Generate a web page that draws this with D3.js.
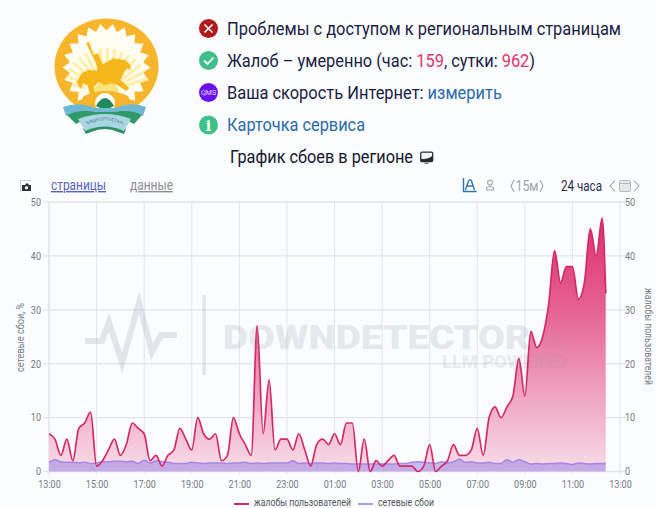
<!DOCTYPE html>
<html lang="ru">
<head>
<meta charset="utf-8">
<title>График сбоев в регионе</title>
<script src="https://cdn.jsdelivr.net/npm/d3@7/dist/d3.min.js"></script>
<style>
  html, body { margin: 0; padding: 0; background: #fafcfe; overflow: hidden; }
  svg { display: block; font-family: Roboto, "Liberation Sans", sans-serif; }
</style>
</head>
<body>
<svg id="page" width="656" height="508"></svg>
<script>
// Complaints per 15-minute sample, starting at 13:00
const complaints = [7,6,3,6,2,8,9,11,1,2,4,6,3,5,9,8,7,2,3,1,3,4,8,6,4,10,7,6,7,2,
  3,10,7,5,3,27,7,17,4,6,6,4,7,4,1,5,6,5,7,5,9,9,0,6,0,2,1,2,3,1,
  1,1,0,1,5,0,1,2,5,3,3,4,8,3,10,12,10,12,14,21,14,26,23,25,31,41,35,38,38,32,
  35,45,40,47,33];
// Network failures, %, same sampling
const network = [1.7,2.2,1.8,1.7,1.7,1.6,1.7,1.5,1.6,1.8,1.8,1.9,1.9,1.8,1.9,1.5,2.1,1.6,2,1.8,
  1.7,1.5,1.5,1.5,1.7,1.6,1.5,1.6,1.6,1.6,1.5,1.6,1.6,1.7,1.5,1.6,1.5,1.6,1.6,1.6,
  1.6,2,1.5,1.6,1.5,1.6,1.6,1.5,1.6,1.5,1.5,1.4,1.4,1.4,1.4,1.4,1.4,1.4,1.4,1.5,
  1.5,1.7,1.8,1.7,1.6,1.5,1.8,1.6,1.8,2.3,1.7,1.8,1.6,1.6,1.7,1.5,1.5,2.2,1.7,2.2,
  1.8,1.4,1.5,1.4,1.5,1.5,1.6,1.5,1.3,1.6,1.5,1.4,1.5,1.5,1.5];
// Minutes after the start of the window; the last reading is the current, partial one
const sampleMinutes = [...d3.range(0, 94 * 15, 15), 1404];
const yTicks = [0, 10, 20, 30, 40, 50];
const hourTicks = d3.range(0, 25, 2);
const legendLabels = ["жалобы пользователей", "сетевые сбои"];
const hourComplaints = 159, dayComplaints = 962;

const svg = d3.select("#page");
const startTime = new Date(2024, 0, 1, 13, 0);
const at = m => new Date(+startTime + m * 60000);

const x = d3.scaleTime().domain([startTime, at(1440)]).range([49, 620]);
const yLeft = d3.scaleLinear().domain([0, 50]).range([471.5, 202]);
const yRight = d3.scaleLinear().domain([0, 50]).range([471.5, 202]);

// Stretch or squeeze an anchored label to a given width
function fitLength(sel, w) {
  sel.each(function () {
    const natural = this.getComputedTextLength();
    const width = typeof w === "function" ? w(natural) : w;
    d3.select(this).attr("textLength", width).attr("lengthAdjust", "spacingAndGlyphs");
  });
  return sel;
}
// Place a left-aligned line with mixed spans, scaled horizontally to a given width
function fitLine(sel, left, base, w) {
  const k = w / sel.node().getComputedTextLength();
  sel.attr("x", 0).attr("y", 0).attr("transform", `translate(${left},${base}) scale(${k},1)`);
  return sel;
}

const defs = svg.append("defs");
const grad = defs.append("linearGradient").attr("id", "complaintFill")
  .attr("gradientUnits", "userSpaceOnUse")
  .attr("x1", 0).attr("x2", 0).attr("y1", yRight(47)).attr("y2", yRight(0));
[[0, "#dd2f6e"], [0.35, "#e5608f"], [0.7, "#efa5c0"], [1, "#f8dde7"]]
  .forEach(([o, c]) => grad.append("stop").attr("offset", o).attr("stop-color", c));

/* ---------- grid ---------- */
const grid = svg.append("g");
grid.selectAll("line.h").data(yTicks).join("line").attr("class", "h")
  .attr("x1", 43).attr("x2", 626)
  .attr("y1", d => yLeft(d)).attr("y2", d => yLeft(d))
  .attr("stroke", "#e2e5e9").attr("stroke-width", 1.3);
grid.selectAll("line.v").data(hourTicks).join("line").attr("class", "v")
  .attr("x1", d => x(at(d * 60))).attr("x2", d => x(at(d * 60)))
  .attr("y1", yLeft(50)).attr("y2", yLeft(0) + 3)
  .attr("stroke", "#e2e5e9").attr("stroke-width", d => (d === 0 ? 1.6 : 1));

/* ---------- series ---------- */
const xOf = (d, i) => x(at(sampleMinutes[i]));
const complaintArea = d3.area().x(xOf).y0(yRight(0)).y1(d => yRight(d)).curve(d3.curveMonotoneX);
const complaintLine = d3.line().x(xOf).y(d => yRight(d)).curve(d3.curveMonotoneX);
const networkArea = d3.area().x(xOf).y0(yLeft(0)).y1(d => yLeft(d)).curve(d3.curveMonotoneX);
const networkLine = d3.line().x(xOf).y(d => yLeft(d)).curve(d3.curveMonotoneX);

svg.append("path").datum(complaints).attr("d", complaintArea).attr("fill", "url(#complaintFill)");

/* ---------- watermark, laid over the filled areas ---------- */
const mark = svg.append("g").attr("fill", "#8b98a6").attr("fill-opacity", 0.21);
mark.append("path")
  .attr("d", "M85 341H102L109 322L122 363L139 303L152 352L161 335H177")
  .attr("fill", "none").attr("stroke", "#8b98a6").attr("stroke-opacity", 0.21).attr("stroke-width", 6);
mark.append("rect").attr("x", 202.5).attr("y", 295).attr("width", 3.5).attr("height", 80);
mark.append("text").attr("x", 223).attr("y", 349).attr("font-size", 33).attr("font-weight", 900)
  .text("DOWNDETECTOR").call(fitLength, 307);
mark.append("text").attr("x", 528).attr("y", 348).attr("font-size", 15).attr("font-weight", 700)
  .attr("fill-opacity", 0.14).text(".info").call(fitLength, 38);
mark.append("text").attr("x", 442).attr("y", 368).attr("font-size", 18).attr("font-weight", 900)
  .attr("fill-opacity", 0.16).text("LLM POWERED").call(fitLength, 125);

svg.append("path").datum(network).attr("d", networkArea).attr("fill", "#8f7be8").attr("fill-opacity", 0.5);
svg.append("path").datum(network).attr("d", networkLine).attr("fill", "none")
  .attr("stroke", "#a586e6").attr("stroke-width", 1.5);
svg.append("path").datum(complaints).attr("d", complaintLine).attr("fill", "none")
  .attr("stroke", "#d42a66").attr("stroke-width", 1.7);

/* ---------- axes ---------- */
function styleAxis(g) {
  g.select(".domain").remove();
  g.selectAll(".tick line").remove();
  g.selectAll("text").attr("fill", "#777b80").attr("font-size", 10.5)
    .attr("font-family", "Roboto, sans-serif").call(fitLength, n => n * 0.86);
}
svg.append("g").attr("transform", "translate(41,0)")
  .call(d3.axisLeft(yLeft).tickValues(yTicks).tickSize(0).tickPadding(0)).call(styleAxis);
svg.append("g").attr("transform", "translate(625,0)")
  .call(d3.axisRight(yRight).tickValues(yTicks).tickSize(0).tickPadding(0)).call(styleAxis);
svg.append("g").attr("transform", "translate(0,480.5)")
  .call(d3.axisBottom(x).tickValues(hourTicks.map(h => at(h * 60))).tickFormat(d3.timeFormat("%H:%M")).tickSize(0).tickPadding(0))
  .call(styleAxis);

svg.append("text").attr("transform", "translate(23.500,337.5) rotate(-90)").attr("text-anchor", "middle")
  .attr("font-size", 10).attr("fill", "#777b80").text("сетевые сбои, %").call(fitLength, 69);
svg.append("text").attr("transform", "translate(645,336.5) rotate(90)").attr("text-anchor", "middle")
  .attr("font-size", 10).attr("fill", "#777b80").text("жалобы пользователей").call(fitLength, 97);

/* ---------- legend ---------- */
const legend = svg.append("g");
[[234, "#d42a66", 254, 97], [358, "#a79bee", 378, 56]].forEach(([lx, col, tx, w], i) => {
  legend.append("line").attr("x1", lx).attr("x2", lx + 15).attr("y1", 504).attr("y2", 504)
    .attr("stroke", col).attr("stroke-width", 2);
  legend.append("text").attr("x", tx).attr("y", 505.8).attr("font-size", 10)
    .attr("fill", "#55585c").text(legendLabels[i]).call(fitLength, w);
});

/* ---------- status list ---------- */
const inkColor = "#1b1c46", linkColor = "#2a6aa8", figureColor = "#d9366b";
function statusDot(cy, fill) {
  return svg.append("circle").attr("cx", 208.5).attr("cy", cy).attr("r", 9.5).attr("fill", fill);
}
function statusText() {
  return svg.append("text").attr("font-size", 17.8).attr("fill", inkColor);
}
const rowY = [28.5, 60.5, 92.5, 125];

statusDot(rowY[0], "#ae1c1c");
svg.append("path").attr("d", `M204.5 ${rowY[0] - 4}l8 8m0 -8l-8 8`).attr("stroke", "#fff").attr("stroke-width", 1.6).attr("fill", "none");
statusText().text("Проблемы с доступом к региональным страницам").call(fitLine, 227, rowY[0] + 6.5, 394);

statusDot(rowY[1], "#3fbf8a");
svg.append("path").attr("d", `M204 ${rowY[1]}l3.500 3.500l6 -6.500`).attr("stroke", "#fff").attr("stroke-width", 1.8).attr("fill", "none");
const t2 = statusText();
t2.append("tspan").text("Жалоб – умеренно (час: ");
t2.append("tspan").attr("fill", figureColor).text(hourComplaints);
t2.append("tspan").text(", сутки: ");
t2.append("tspan").attr("fill", figureColor).text(dayComplaints);
t2.append("tspan").text(")");
t2.call(fitLine, 227, rowY[1] + 6.5, 308);

statusDot(rowY[2], "#6a12ee");
svg.append("text").attr("x", 208.5).attr("y", rowY[2] + 2.5).attr("text-anchor", "middle").attr("font-size", 7)
  .attr("fill", "#e8dcff").text("QMS");
const t3 = statusText();
t3.append("tspan").text("Ваша скорость Интернет: ");
t3.append("tspan").attr("fill", linkColor).text("измерить");
t3.call(fitLine, 227, rowY[2] + 6.5, 275);

statusDot(rowY[3], "#3fbf8a");
svg.append("text").attr("x", 208.5).attr("y", rowY[3] + 5.5).attr("text-anchor", "middle").attr("font-size", 14)
  .attr("font-weight", 700).attr("font-family", "DejaVu Serif, serif").attr("fill", "#fff").text("i");
statusText().attr("fill", linkColor).text("Карточка сервиса").call(fitLine, 227, rowY[3] + 6, 138);

/* ---------- chart heading ---------- */
svg.append("text").attr("font-size", 17.8).attr("fill", "#15152e").text("График сбоев в регионе")
  .call(fitLine, 230, 163, 183);
const screen = svg.append("g").attr("transform", "translate(420,151.5)");
screen.append("rect").attr("x", 0.7).attr("y", 0.7).attr("width", 12).attr("height", 9.5).attr("rx", 1.5)
  .attr("fill", "#f4f5f7").attr("stroke", "#2a2a33").attr("stroke-width", 1.3);
screen.append("path").attr("d", "M1 10H12V5Q9 8 1 8ZM4.500 11.800H8.500").attr("fill", "#2a2a33").attr("stroke", "#2a2a33").attr("stroke-width", 0.8);

/* ---------- toolbar ---------- */
const tools = svg.append("g");
tools.append("path").attr("d", "M20.500 191V180.500H31").attr("fill", "none").attr("stroke", "#c9cdd2");
tools.append("path").attr("d", "M22 191V185H25L26 183.500H28L29 185H31V191Z").attr("fill", "#2f3136");
tools.append("circle").attr("cx", 26.5).attr("cy", 187.8).attr("r", 1.7).attr("fill", "#e8eaec");
tools.append("text").attr("x", 51).attr("y", 190).attr("font-size", 14).attr("fill", "#5563c6")
  .attr("text-decoration", "underline").text("страницы").call(fitLength, 55);
tools.append("text").attr("x", 130).attr("y", 190).attr("font-size", 14).attr("fill", "#8e9094")
  .attr("text-decoration", "underline").text("данные").call(fitLength, 43);

tools.append("path").attr("d", "M463.500 178V191.500H476.500M465.500 190L468.500 181Q470 178.500 471.500 181L474.500 190M466.500 186H473.500")
  .attr("fill", "none").attr("stroke", "#2f74b5").attr("stroke-width", 1.4);
tools.append("circle").attr("cx", 490).attr("cy", 182.5).attr("r", 2.4).attr("fill", "none").attr("stroke", "#a5a9ae").attr("stroke-width", 1.1);
tools.append("path").attr("d", "M486.500 190V188.500Q486.500 186.500 490 186.500Q493.500 186.500 493.500 188.500V190Z")
  .attr("fill", "none").attr("stroke", "#a5a9ae").attr("stroke-width", 1.1);
tools.append("text").attr("x", 527).attr("y", 191).attr("text-anchor", "middle").attr("font-size", 14)
  .attr("fill", "#a0a4a9").text("15м").call(fitLength, 23);
tools.append("path").attr("d", "M514 180L511 186L514 192M540 180L543 186L540 192M615 180.500L610 186L615 191.500M634 180.500L639 186L634 191.500")
  .attr("fill", "none").attr("stroke", "#a0a4a9").attr("stroke-width", 1.1);
tools.append("text").attr("x", 561).attr("y", 191).attr("font-size", 14).attr("fill", "#2a2b50")
  .text("24 часа").call(fitLength, 41);
tools.append("rect").attr("x", 619.5).attr("y", 180.5).attr("width", 11).attr("height", 11).attr("rx", 1.5)
  .attr("fill", "#e6e7ea").attr("stroke", "#b4b7bb");
tools.append("line").attr("x1", 619.5).attr("x2", 630.5).attr("y1", 183.5).attr("y2", 183.5).attr("stroke", "#b4b7bb");

/* ---------- regional emblem ---------- */
const emblem = svg.append("g");
const ringX = 106.5, ringY = 66.5;
const gold = "#f7b52c";
emblem.append("ellipse").attr("cx", ringX).attr("cy", ringY).attr("rx", 52).attr("ry", 48).attr("fill", gold);
// Toothed inner edge of the ring
const teethCount = 22;
const toothed = d3.lineRadial().curve(d3.curveLinearClosed).angle(d => d.a).radius(d => d.r);
const toothPoints = d3.range(teethCount * 2).map(i => ({ a: i * Math.PI / teethCount, r: i % 2 ? 44 : 37 }));
const toothPath = toothed(toothPoints);
defs.append("clipPath").attr("id", "emblemField").append("path")
  .attr("transform", `translate(${ringX},${ringY + 1})`).attr("d", toothPath);
emblem.append("path").attr("transform", `translate(${ringX},${ringY + 1})`)
  .attr("d", toothPath).attr("fill", "#fffdf2");
// Sun rays behind the rider
const rayAngles = d3.range(-78, 79, 10);
emblem.append("g").attr("clip-path", "url(#emblemField)")
  .selectAll("line").data(rayAngles).join("line")
  .attr("x1", d => 106 + 20 * Math.sin(d * Math.PI / 180))
  .attr("y1", d => 92 - 20 * Math.cos(d * Math.PI / 180))
  .attr("x2", d => 106 + 44 * Math.sin(d * Math.PI / 180))
  .attr("y2", d => 92 - 44 * Math.cos(d * Math.PI / 180))
  .attr("stroke", "#fdeea8").attr("stroke-width", 3);
emblem.append("circle").attr("cx", 106).attr("cy", 94).attr("r", 13).attr("fill", "#fde27e");
emblem.append("path").attr("transform", "translate(30,5) scale(0.3333)")
  .attr("d", "M168 113L178 112L190 150L205 145L210 160L218 178L250 160L285 165L300 178L303 195L290 190L280 205L272 225L298 250L288 258L262 240L245 235L225 240L205 232L192 245L192 268L180 268L172 240L160 235L152 252L140 232L155 205L175 195L203 197L198 175Z")
  .attr("fill", "#f6b71c");
emblem.append("path").attr("d", "M84 96Q106 86 128 96L134 108H76Z").attr("fill", gold);
emblem.append("circle").attr("cx", 105).attr("cy", 103).attr("r", 10).attr("fill", "#fff");
emblem.append("path").attr("d", "M96 106Q105 90 114 106L110 108H100Z").attr("fill", "#1f8a5e");
// Wavy ribbon and central band
emblem.append("path").attr("d", "M63 107Q78 101 95 108L115 108Q132 101 146 107L143 116Q130 110 115 113L95 113Q80 110 66 116Z").attr("fill", "#6fb9d2");
emblem.append("path").attr("d", "M67 115Q80 109 95 112L115 112Q130 109 142 115L134 124Q105 108 76 124Z").attr("fill", "#2f9a68");
emblem.append("path").attr("d", "M83 129Q105 120 126 129L124 134L118 132Q105 126 91 132L86 134Z").attr("fill", "#2e8f62");
emblem.append("path").attr("d", "M78 119Q105 109 131 119L124 131Q105 122 85 131Z").attr("fill", "#a9d6e2");
defs.append("path").attr("id", "emblemArc").attr("d", "M84 126Q105 115 125 126");
emblem.append("text").attr("font-size", 4.5).attr("fill", "#4d7f8e")
  .append("textPath").attr("href", "#emblemArc").attr("startOffset", "50%").attr("text-anchor", "middle")
  .text("БАШКОРТОСТАН");
</script>
</body>
</html>
